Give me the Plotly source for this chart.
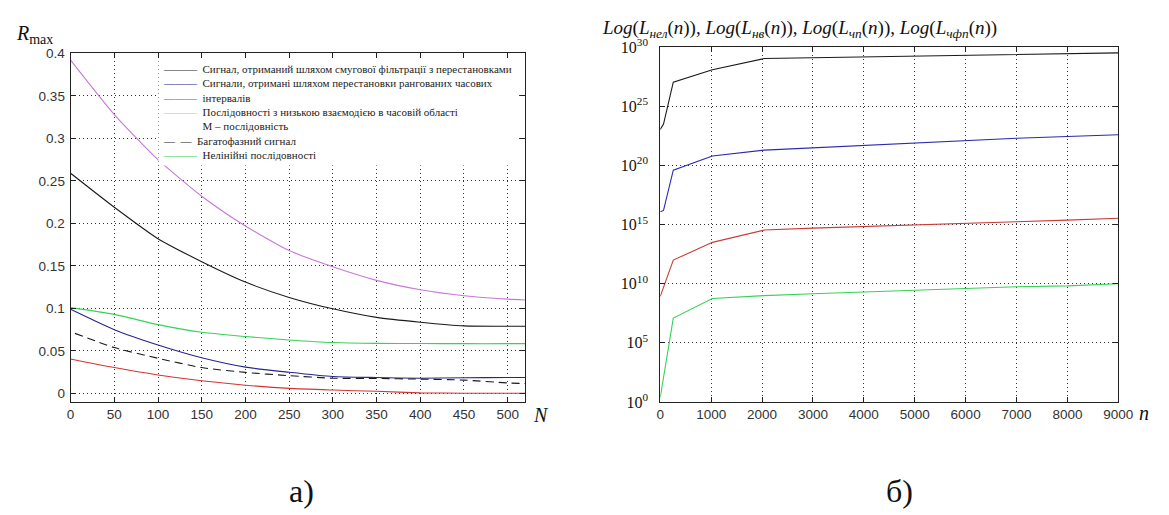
import plotly.graph_objects as go

# ---------------- data: left panel (a) ----------------
N = [0, 50, 100, 150, 200, 250, 300, 350, 400, 450, 500, 520]
band_filter = [0.259, 0.219, 0.182, 0.155, 0.131, 0.113, 0.0996, 0.0895, 0.0838, 0.0795, 0.079, 0.079]
ranked_intervals = [0.099, 0.075, 0.057, 0.042, 0.031, 0.025, 0.020, 0.0188, 0.018, 0.0185, 0.0188, 0.0188]
low_interaction = [0.0406, 0.0305, 0.0218, 0.015, 0.0098, 0.006, 0.0041, 0.0026, 0.0008, 0.0004, 0.0004, 0.0004]
m_sequence = [0.392, 0.328, 0.275, 0.232, 0.197, 0.168, 0.149, 0.133, 0.122, 0.115, 0.111, 0.110]
N_poly = [5, 50, 100, 150, 200, 250, 300, 350, 400, 450, 500, 520]
polyphase = [0.0707, 0.054, 0.0414, 0.0305, 0.0248, 0.021, 0.018, 0.0177, 0.0169, 0.0158, 0.0124, 0.0117]
nonlinear = [0.101, 0.093, 0.081, 0.072, 0.067, 0.063, 0.060, 0.059, 0.0588, 0.0586, 0.0586, 0.0586]

# legend text lines exactly as printed in the reference (7 printed lines)
legend_lines = [
    "Сигнал, отриманий шляхом смугової фільтрації з перестановками",
    "Сигнали, отримані шляхом перестановки рангованих часових",
    "інтервалів",
    "Послідовності з низькою взаємодією в часовій області",
    "М – послідовність",
    "Багатофазний сигнал",
    "Нелінійні послідовності",
]
yticks_a = [0, 0.05, 0.1, 0.15, 0.2, 0.25, 0.3, 0.35, 0.4]
yticklabels_a = ["0", "0.05", "0.1", "0.15", "0.2", "0.25", "0.3", "0.35", "0.4"]
xticks_a = [0, 50, 100, 150, 200, 250, 300, 350, 400, 450, 500]

# ---------------- data: right panel (b), log10 values ----------------
n = [0, 64, 256, 1024, 2048, 3000, 4000, 5000, 6000, 7000, 8000, 9000]
log_L_nel = [23.05, 23.5, 27.05, 28.1, 29.05, 29.12, 29.18, 29.25, 29.32, 29.42, 29.47, 29.52]
log_L_nv = [16.08, 16.2, 19.6, 20.8, 21.3, 21.5, 21.7, 21.9, 22.1, 22.3, 22.45, 22.6]
log_L_chp = [8.94, 9.73, 12.0, 13.5, 14.54, 14.7, 14.85, 14.97, 15.1, 15.24, 15.38, 15.54]
log_L_chfp = [0.4, 2.0, 7.1, 8.75, 9.0, 9.15, 9.3, 9.45, 9.6, 9.75, 9.82, 10.0]
L_nel = [10 ** v for v in log_L_nel]
L_nv = [10 ** v for v in log_L_nv]
L_chp = [10 ** v for v in log_L_chp]
L_chfp = [10 ** v for v in log_L_chfp]
yticks_b = [1, 1e5, 1e10, 1e15, 1e20, 1e25, 1e30]
yticklabels_b = ["10<sup>0</sup>", "10<sup>5</sup>", "10<sup>10</sup>", "10<sup>15</sup>",
                 "10<sup>20</sup>", "10<sup>25</sup>", "10<sup>30</sup>"]
xticks_b = [0, 1000, 2000, 3000, 4000, 5000, 6000, 7000, 8000, 9000]

# ---------------- styling ----------------
W, H = 1169, 515
SANS = "Liberation Sans"
SERIF = "Liberation Serif"
GRID = dict(showgrid=True, gridcolor="#333333", gridwidth=1, griddash="1px,3px",
            showline=True, linecolor="#222222", linewidth=1, mirror="ticks",
            ticks="inside", ticklen=5, tickcolor="#222222", zeroline=False)

col_black = "#1a1a1a"
col_blue = "#26268c"
col_red = "#d43434"
col_violet = "#c67ad4"
col_pink = "#f2a6b4"
col_green = "#3ad05a"

fig = go.Figure()

def spl(color, width=1.1, dash="solid"):
    return dict(color=color, width=width, dash=dash, shape="spline", smoothing=0.6)

series_a = [
    (N, band_filter, spl(col_black), legend_lines[0]),
    (N, ranked_intervals, spl(col_blue), legend_lines[1] + " " + legend_lines[2]),
    (N, low_interaction, spl(col_red), legend_lines[3]),
    (N, m_sequence, spl(col_violet), legend_lines[4]),
    (N_poly, polyphase, spl(col_black, dash="8px,5px"), legend_lines[5]),
    (N, nonlinear, spl(col_green), legend_lines[6]),
]
for xs, ys, ln, nm in series_a:
    fig.add_trace(go.Scatter(x=xs, y=ys, mode="lines", name=nm, line=ln,
                             showlegend=False, xaxis="x", yaxis="y"))

for vals, c in [(L_nel, col_black), (L_nv, "#2a2ab0"), (L_chp, "#cc3a3a"), (L_chfp, col_green)]:
    fig.add_trace(go.Scatter(x=n, y=vals, mode="lines", showlegend=False,
                             line=dict(color=c, width=1.1), xaxis="x2", yaxis="y2"))

fig.update_layout(
    width=W, height=H,
    margin=dict(l=0, r=0, t=0, b=0),
    paper_bgcolor="white", plot_bgcolor="white",
    showlegend=False,
    xaxis=dict(domain=[67.7 / W, 529.8 / W], range=[0, 520], tickvals=xticks_a,
               tickfont=dict(family=SANS, size=13.5, color="#333333"),
               anchor="y", **GRID),
    yaxis=dict(domain=[1 - 407 / H, 1 - 44 / H], range=[-0.0102, 0.4],
               tickvals=yticks_a, ticktext=yticklabels_a, ticklabelstandoff=2,
               tickfont=dict(family=SANS, size=13.5, color="#333333"),
               anchor="x", **GRID),
    xaxis2=dict(domain=[667.1 / W, 1132.7 / W], range=[0, 9000], tickvals=xticks_b,
                tickfont=dict(family=SANS, size=13.5, color="#333333"),
                anchor="y2", **GRID),
    yaxis2=dict(domain=[1 - 406.8 / H, 1 - 37.7 / H], type="log", range=[0, 30],
                tickvals=yticks_b, ticktext=yticklabels_b, ticklabelstandoff=8,
                tickfont=dict(family=SERIF, size=16, color="#111111"),
                anchor="x2", **GRID),
)

# legend box (text only: coloured dash glyphs as line samples)
samples = [
    ("———", col_black), ("———", col_blue), ("———", col_red), ("———", col_pink),
    ("———", "white"), ("—&nbsp;&nbsp;—", "#222222"), ("———", col_green),
]
rows = []
for (glyph, c), txt in zip(samples, legend_lines):
    rows.append("<span style='color:%s'>%s</span>&nbsp;&nbsp;%s" % (c, glyph, txt))
legend_text = "<br>".join(rows)

ann = []
ann.append(dict(text=legend_text, x=157 / W, y=1 - 49 / H, xref="paper", yref="paper",
                xanchor="left", yanchor="top", align="left", showarrow=False,
                bgcolor="white", borderpad=4,
                font=dict(family=SERIF, size=11, color="#222222")))
ann.append(dict(text="<i>R</i><sub>max</sub>", x=10 / W, y=1 - 24 / H, xref="paper", yref="paper",
                xanchor="left", yanchor="middle", showarrow=False,
                font=dict(family=SERIF, size=20, color="#111111")))
ann.append(dict(text="<i>N</i>", x=546 / W, y=1 - 420 / H, xref="paper", yref="paper",
                xanchor="center", yanchor="middle", showarrow=False,
                font=dict(family=SERIF, size=20, color="#111111")))
ann.append(dict(text="<i>n</i>", x=1159 / W, y=1 - 418 / H, xref="paper", yref="paper",
                xanchor="center", yanchor="middle", showarrow=False,
                font=dict(family=SERIF, size=20, color="#111111")))
title_b = ("<i>Log</i>(<i>L</i><sub><i>нел</i></sub>(<i>n</i>)), "
           "<i>Log</i>(<i>L</i><sub><i>нв</i></sub>(<i>n</i>)), "
           "<i>Log</i>(<i>L</i><sub><i>чп</i></sub>(<i>n</i>)), "
           "<i>Log</i>(<i>L</i><sub><i>чфп</i></sub>(<i>n</i>))")
ann.append(dict(text=title_b, x=606 / W, y=1 - 19 / H, xref="paper", yref="paper",
                xanchor="left", yanchor="middle", showarrow=False,
                font=dict(family=SERIF, size=19, color="#111111")))
ann.append(dict(text="а)", x=302 / W, y=1 - 499 / H, xref="paper", yref="paper",
                xanchor="center", yanchor="middle", showarrow=False,
                font=dict(family=SERIF, size=32, color="#111111")))
ann.append(dict(text="б)", x=910 / W, y=1 - 499 / H, xref="paper", yref="paper",
                xanchor="center", yanchor="middle", showarrow=False,
                font=dict(family=SERIF, size=32, color="#111111")))
fig.update_layout(annotations=ann)

fig.write_html("out.html", config={"displayModeBar": False},
               post_script="document.body.style.margin='0px';")
